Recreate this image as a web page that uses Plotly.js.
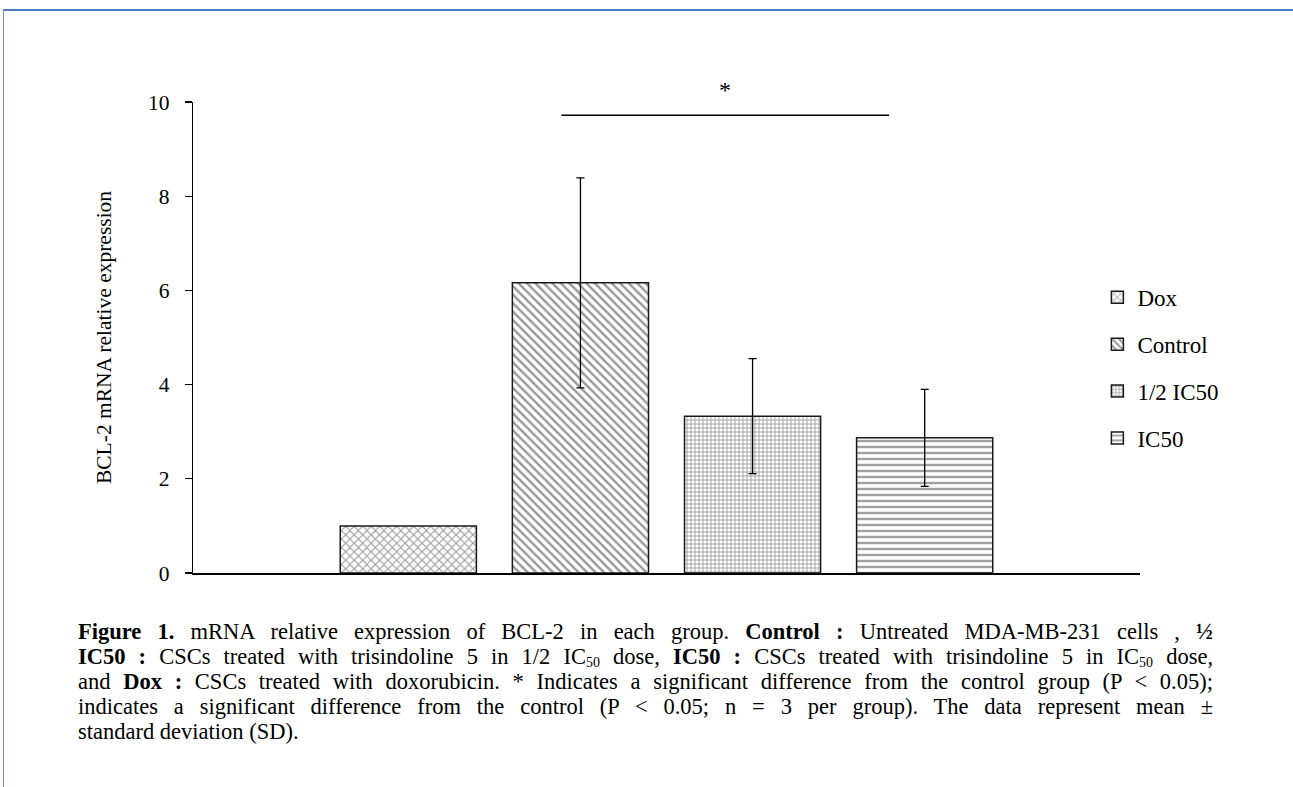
<!DOCTYPE html>
<html><head><meta charset="utf-8">
<script src="https://cdn.plot.ly/plotly-3.0.1.min.js"></script>
<style>
body{margin:0;background:#fff;}
#wrap{position:relative;width:1293px;height:787px;overflow:hidden;}
#chart{position:absolute;left:0;top:0;width:1293px;height:787px;}
#frame{position:absolute;left:3px;top:9px;right:-5px;bottom:-5px;border-top:2px solid #4a78c2;border-left:1px solid #6d93d1;pointer-events:none;}
#caption{position:absolute;left:78px;top:619px;width:1135px;font-family:"Liberation Serif","Times New Roman",serif;font-size:22.5px;line-height:25px;color:#000;}
.ln{text-align:justify;text-align-last:justify;white-space:nowrap;height:25px;overflow:visible;}
.last{text-align:left;text-align-last:left;}
.s{font-size:0.62em;position:relative;top:0.22em;line-height:1;}
</style>
</head><body>
<div id="wrap">
<div id="chart"></div>
<div id="frame"></div>
<div id="caption">
<div class="ln"><b>Figure 1.</b> mRNA relative expression of BCL-2 in each group. <b>Control :</b> Untreated MDA-MB-231 cells , <b>½</b></div>
<div class="ln"><b>IC50 :</b> CSCs treated with trisindoline 5 in 1/2 IC<span class="s">50</span> dose, <b>IC50 :</b> CSCs treated with trisindoline 5 in IC<span class="s">50</span> dose,</div>
<div class="ln">and <b>Dox :</b> CSCs treated with doxorubicin. * Indicates a significant difference from the control group (P &lt; 0.05);</div>
<div class="ln">indicates a significant difference from the control (P &lt; 0.05; n = 3 per group). The data represent mean ±</div>
<div class="ln last">standard deviation (SD).</div>
</div>
</div>
<script>
// ---- data ----
const category = ['BCL-2'];
const groups = ['Dox', 'Control', '1/2 IC50', 'IC50'];
const means = [1.0, 6.16, 3.33, 2.87];
const sds = [0, 2.23, 1.22, 1.03];
const sigLevel = 9.72;
const sigLabel = '*';
const yTicks = [0, 2, 4, 6, 8, 10];

// ---- styles ----
const patterns = [
  {shape: 'x', size: 6, solidity: 0.35, fgcolor: '#3a3a3a'},
  {shape: '\\', size: 6, solidity: 0.4, fgcolor: '#2e2e2e'},
  {shape: '+', size: 4, solidity: 0.4, fgcolor: '#3a3a3a'},
  {shape: '-', size: 6, solidity: 0.4, fgcolor: '#444'}
];
const FONT = 'Liberation Serif, Times New Roman, serif';
const FS = 21.5;

const traces = groups.map((g, i) => ({
  type: 'bar',
  name: g,
  legendgroup: g,
  x: category,
  y: [means[i]],
  error_y: {type: 'data', array: [sds[i]], visible: sds[i] > 0, color: '#000', thickness: 1.3, width: 4},
  marker: {
    color: '#ffffff',
    line: {color: '#1a1a1a', width: 1.5},
    pattern: Object.assign({bgcolor: '#fff', fillmode: 'overlay'}, patterns[i])
  },
  hoverinfo: 'skip'
}));

const layout = {
  width: 1293, height: 787,
  margin: {l: 193, r: 153, t: 102, b: 214, pad: 0},
  paper_bgcolor: '#fff', plot_bgcolor: '#fff',
  font: {family: FONT, size: FS, color: '#000'},
  barmode: 'group',
  bargap: 0.273,
  bargroupgap: 0.209,
  showlegend: true,
  legend: {
    x: 0.955, xanchor: 'left', y: 0.631, yanchor: 'top',
    traceorder: 'grouped', tracegroupgap: 14,
    itemwidth: 30,
    font: {family: FONT, size: 23, color: '#000'},
    bgcolor: 'rgba(0,0,0,0)'
  },
  xaxis: {
    type: 'category', showline: true, linecolor: '#000', linewidth: 1.5,
    showticklabels: false, ticks: '', showgrid: false, zeroline: false, fixedrange: true
  },
  yaxis: {
    range: [0, 10], tickvals: yTicks, ticks: 'outside', ticklen: 7, tickwidth: 1.3, tickcolor: '#000',
    showline: true, linecolor: '#000', linewidth: 1.3, showgrid: false, zeroline: false,
    tickfont: {family: FONT, size: FS, color: '#000'},
    ticklabelstandoff: 11,
    title: {text: 'BCL-2 mRNA relative expression', font: {family: FONT, size: FS, color: '#000'}, standoff: 30}
  },
  shapes: [{
    type: 'line', xref: 'paper', yref: 'y', x0: 0.389, x1: 0.735, y0: sigLevel, y1: sigLevel,
    line: {color: '#000', width: 1.5}
  }],
  annotations: [{
    xref: 'paper', yref: 'y', x: 0.562, y: sigLevel, yanchor: 'bottom', yshift: 10,
    text: sigLabel, showarrow: false, font: {family: FONT, size: 24, color: '#000'}
  }]
};

Plotly.newPlot('chart', traces, layout, {displayModeBar: false, staticPlot: true});
</script>
</body></html>
